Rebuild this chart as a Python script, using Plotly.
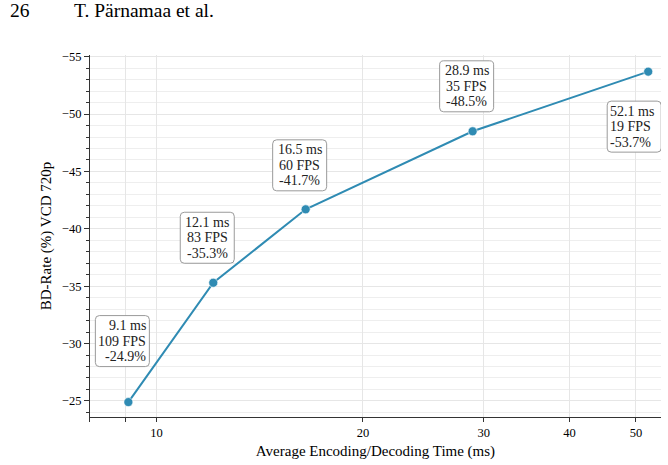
import math
import plotly.graph_objects as go

# Data
times_ms = [9.1, 12.1, 16.5, 28.9, 52.1]
bd_rate = [-24.9, -35.3, -41.7, -48.5, -53.7]
fps = [109, 83, 60, 35, 19]

x_tickvals = [8, 9, 10, 20, 30, 40, 50]
x_ticktext = ["", "", "10", "20", "30", "40", "50"]
y_tickvals = [-55, -50, -45, -40, -35, -30, -25]

# label styling (alignment + pixel offsets of box centers relative to points, +y = up)
label_align = ["right", "center", "center", "center", "left"]
label_shift = [(-6, 61), (-6, 45), (-6, 44), (-6, 45), (-14, -55)]
BOX_W, BOX_H, LINE_H, R = 54, 51, 15.5, 4
PAD_RIGHT, PAD_LEFT = 1, 1

SERIF = "Liberation Serif, Times New Roman, serif"
LINE_COLOR = "#2f8bb3"

fig = go.Figure()
fig.add_trace(go.Scatter(
    x=times_ms, y=bd_rate, mode="lines+markers",
    line=dict(color=LINE_COLOR, width=2),
    marker=dict(color=LINE_COLOR, size=9, line=dict(color="white", width=0.6)),
    showlegend=False, hoverinfo="skip",
))


def rounded_path(cx, cy, w, h, r):
    x0, x1 = cx - w / 2, cx + w / 2
    y0, y1 = cy - h / 2, cy + h / 2
    return (f"M{x0 + r},{y0} L{x1 - r},{y0} Q{x1},{y0} {x1},{y0 + r} "
            f"L{x1},{y1 - r} Q{x1},{y1} {x1 - r},{y1} L{x0 + r},{y1} "
            f"Q{x0},{y1} {x0},{y1 - r} L{x0},{y0 + r} Q{x0},{y0} {x0 + r},{y0} Z")


for t, b, f, al, (dx, dy) in zip(times_ms, bd_rate, fps, label_align, label_shift):
    lx = math.log10(t)
    fig.add_shape(
        type="path", xref="x", yref="y", xsizemode="pixel", ysizemode="pixel",
        xanchor=t, yanchor=b, path=rounded_path(dx, dy, BOX_W, BOX_H, R),
        line=dict(color="#9a9a9a", width=1), fillcolor="white", layer="above",
    )
    lines = [f"{t} ms", f"{f} FPS", f"{b}%"]
    if al == "right":
        xa, tx = "right", dx + BOX_W / 2 - PAD_RIGHT
    elif al == "left":
        xa, tx = "left", dx - BOX_W / 2 + PAD_LEFT
    else:
        xa, tx = "center", dx
    for i, s in enumerate(lines):
        fig.add_annotation(
            x=lx, y=b, xref="x", yref="y", text=s, showarrow=False,
            xanchor=xa, yanchor="middle", xshift=tx, yshift=dy + LINE_H * (1 - i),
            font=dict(family=SERIF, size=14, color="#222"),
        )

# Header text
fig.add_annotation(text="26", xref="paper", yref="paper", x=-0.1436, y=1.124,
                   xanchor="left", yanchor="middle", showarrow=False,
                   font=dict(family=SERIF, size=19.5, color="black"))
fig.add_annotation(text="T. Pärnamaa et al.", xref="paper", yref="paper", x=-0.0315, y=1.124,
                   xanchor="left", yanchor="middle", showarrow=False,
                   font=dict(family=SERIF, size=19.5, color="black"))

grid_col = "#e6e6e6"
fig.update_xaxes(
    type="log", range=[0.9031, 1.7355],
    tickmode="array", tickvals=x_tickvals, ticktext=x_ticktext,
    ticks="outside", ticklen=4, tickwidth=1, tickcolor="#333",
    showgrid=True, gridcolor=grid_col, gridwidth=0.8,
    showline=True, linecolor="#333", linewidth=1.2, zeroline=False,
    tickfont=dict(family=SERIF, size=12.5, color="black"),
    title=dict(text="Average Encoding/Decoding Time (ms)", standoff=6,
               font=dict(family=SERIF, size=15, color="black")),
)
fig.update_yaxes(
    range=[-23.6, -55.15],
    tickmode="array", tickvals=y_tickvals,
    ticks="outside", ticklen=5, tickwidth=1, tickcolor="#333",
    showgrid=True, gridcolor=grid_col, gridwidth=0.8,
    minor=dict(dtick=1, ticks="outside", ticklen=3, tickcolor="#333",
               showgrid=True, gridcolor="#eeeeee", gridwidth=0.7),
    showline=True, linecolor="#333", linewidth=1.2, zeroline=False,
    tickfont=dict(family=SERIF, size=12.5, color="black"),
    title=dict(text="BD-Rate (%) VCD 720p", standoff=6,
               font=dict(family=SERIF, size=15, color="black")),
)

fig.update_layout(
    width=668, height=465,
    margin=dict(l=90, r=7, t=55, b=48),
    paper_bgcolor="white", plot_bgcolor="white",
)

fig.write_html("out.html")
